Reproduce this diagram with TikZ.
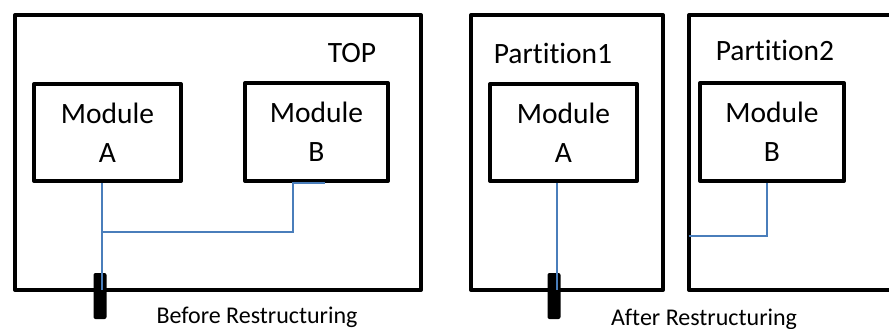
\documentclass[tikz,border=0pt]{standalone}
\usepackage{fontspec}
\setmainfont{Carlito}[Ligatures=NoCommon]
\usetikzlibrary{positioning, calc}

\definecolor{wireblue}{HTML}{4A7EBB}

\begin{document}
\begin{tikzpicture}[x=1pt, y=-1pt,
    frame/.style={draw, line width=4pt, line join=round, anchor=north west, inner sep=0pt, outer sep=0pt},
    module/.style={frame, align=center, font=\fontsize{29.5}{39}\selectfont},
    title/.style={inner sep=0pt, font=\fontsize{29.5}{34}\selectfont},
    caption/.style={inner sep=0pt, anchor=base, font=\fontsize{24}{28}\selectfont},
    pin/.style={fill=black, rounded corners=2pt, minimum width=13pt, minimum height=46pt, inner sep=0pt},
    wire/.style={draw=wireblue, line width=2.2pt}]
  \clip (0,0) rectangle (889,329);

  % before: one top level holding both modules
  \node[frame, minimum width=406pt, minimum height=275pt] (top) at (15,15) {};
  \node[module, minimum width=147pt, minimum height=97pt] (modA) at (34,84) {Module\\A};
  \node[module, minimum width=143pt, minimum height=98pt] (modB) at (245,83) {Module\\B};
  \node[title] (topName) at (352,53) {TOP};
  \node[pin] (pinA) at (100,296) {};

  \coordinate (aTap) at (102,183);
  \coordinate (aEnd) at (102,290);
  \coordinate (jn) at (102,232);
  \coordinate (bBend) at (293,183);
  \coordinate (bTap) at (325,183);
  \draw[wire] (aTap) -- (aEnd);
  \draw[wire] (jn) -| (bBend) -- (bTap);

  \node[caption] (before) at (257,323) {Before Restructuring};

  % after: each module in its own partition
  \node[frame, minimum width=192pt, minimum height=275pt] (part1) at (471,15) {};
  \node[frame, minimum width=240pt, minimum height=275pt] (part2) at (689,15) {};
  \node[module, minimum width=147pt, minimum height=97pt] (modA2) at (490,84) {Module\\A};
  \node[module, minimum width=144pt, minimum height=98pt] (modB2) at (700,83) {Module\\B};
  \node[title] (part1Name) at (553,53) {Partition1};
  \node[title] (part2Name) at (775,50) {Partition2};
  \node[pin] (pinA2) at (554,296) {};

  \coordinate (a2Tap) at (557,183);
  \coordinate (a2End) at (557,290);
  \coordinate (b2Tap) at (767,183);
  \coordinate (p2In) at (689,236);
  \draw[wire] (a2Tap) -- (a2End);
  \draw[wire] (b2Tap) |- (p2In);

  \node[caption] (after) at (704,325) {After Restructuring};
\end{tikzpicture}
\end{document}
